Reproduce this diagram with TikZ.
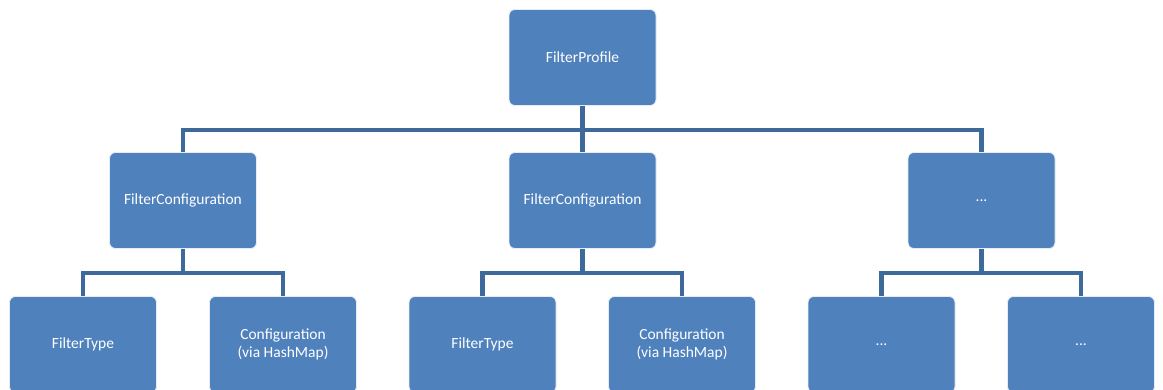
\documentclass[tikz,border=0pt]{standalone}
\usepackage{fontspec}
\setmainfont{Carlito}
\usepackage{tikz}
\usetikzlibrary{calc}
\definecolor{boxblue}{HTML}{4F81BD}
\definecolor{linkblue}{HTML}{3E6A9B}
\tikzset{box/.style={draw=white!85!boxblue, line width=0.8pt, fill=boxblue, rounded corners=6pt,
    minimum width=147pt, minimum height=96pt, text=white, align=center,
    font=\fontsize{15.5}{18}\selectfont, inner sep=0pt}}
\tikzset{link/.style={draw=linkblue, line width=4.5pt}}

\begin{document}
\begin{tikzpicture}[x=1pt, y=-1pt]
  \useasboundingbox (0,0) rectangle (1163,389);
  \clip (0,0) rectangle (1163,389);

  \node[box] (FP) at (582.5,57.5) {FilterProfile};

  \node[box] (FC1) at (183,200.5) {FilterConfiguration};
  \node[box] (FC2) at (582.5,200.5) {FilterConfiguration};
  \node[box] (FC3) at (981.5,200.5) {...};

  \node[box] (FT1) at (83,344.5) {FilterType};
  \node[box] (CF1) at (283,344.5) {Configuration\\(via HashMap)};
  \node[box] (FT2) at (482.5,344.5) {FilterType};
  \node[box] (CF2) at (682,344.5) {Configuration\\(via HashMap)};
  \node[box] (DT1) at (881.5,344.5) {...};
  \node[box] (DT2) at (1081,344.5) {...};

  % bus lines
  \coordinate (BUS0) at (0,130);
  \coordinate (BUS1) at (0,273);

  \draw[link] (FP.south) -- (FP.south |- BUS0);
  \draw[link] (FC1.north) -- (FC1.north |- BUS0) -| (FC3.north);
  \draw[link] (FC2.north) -- (FC2.north |- BUS0);

  \draw[link] (FC1.south) -- (FC1.south |- BUS1);
  \draw[link] (FT1.north) -- (FT1.north |- BUS1) -| (CF1.north);
  \draw[link] (FC2.south) -- (FC2.south |- BUS1);
  \draw[link] (FT2.north) -- (FT2.north |- BUS1) -| (CF2.north);
  \draw[link] (FC3.south) -- (FC3.south |- BUS1);
  \draw[link] (DT1.north) -- (DT1.north |- BUS1) -| (DT2.north);
\end{tikzpicture}
\end{document}
